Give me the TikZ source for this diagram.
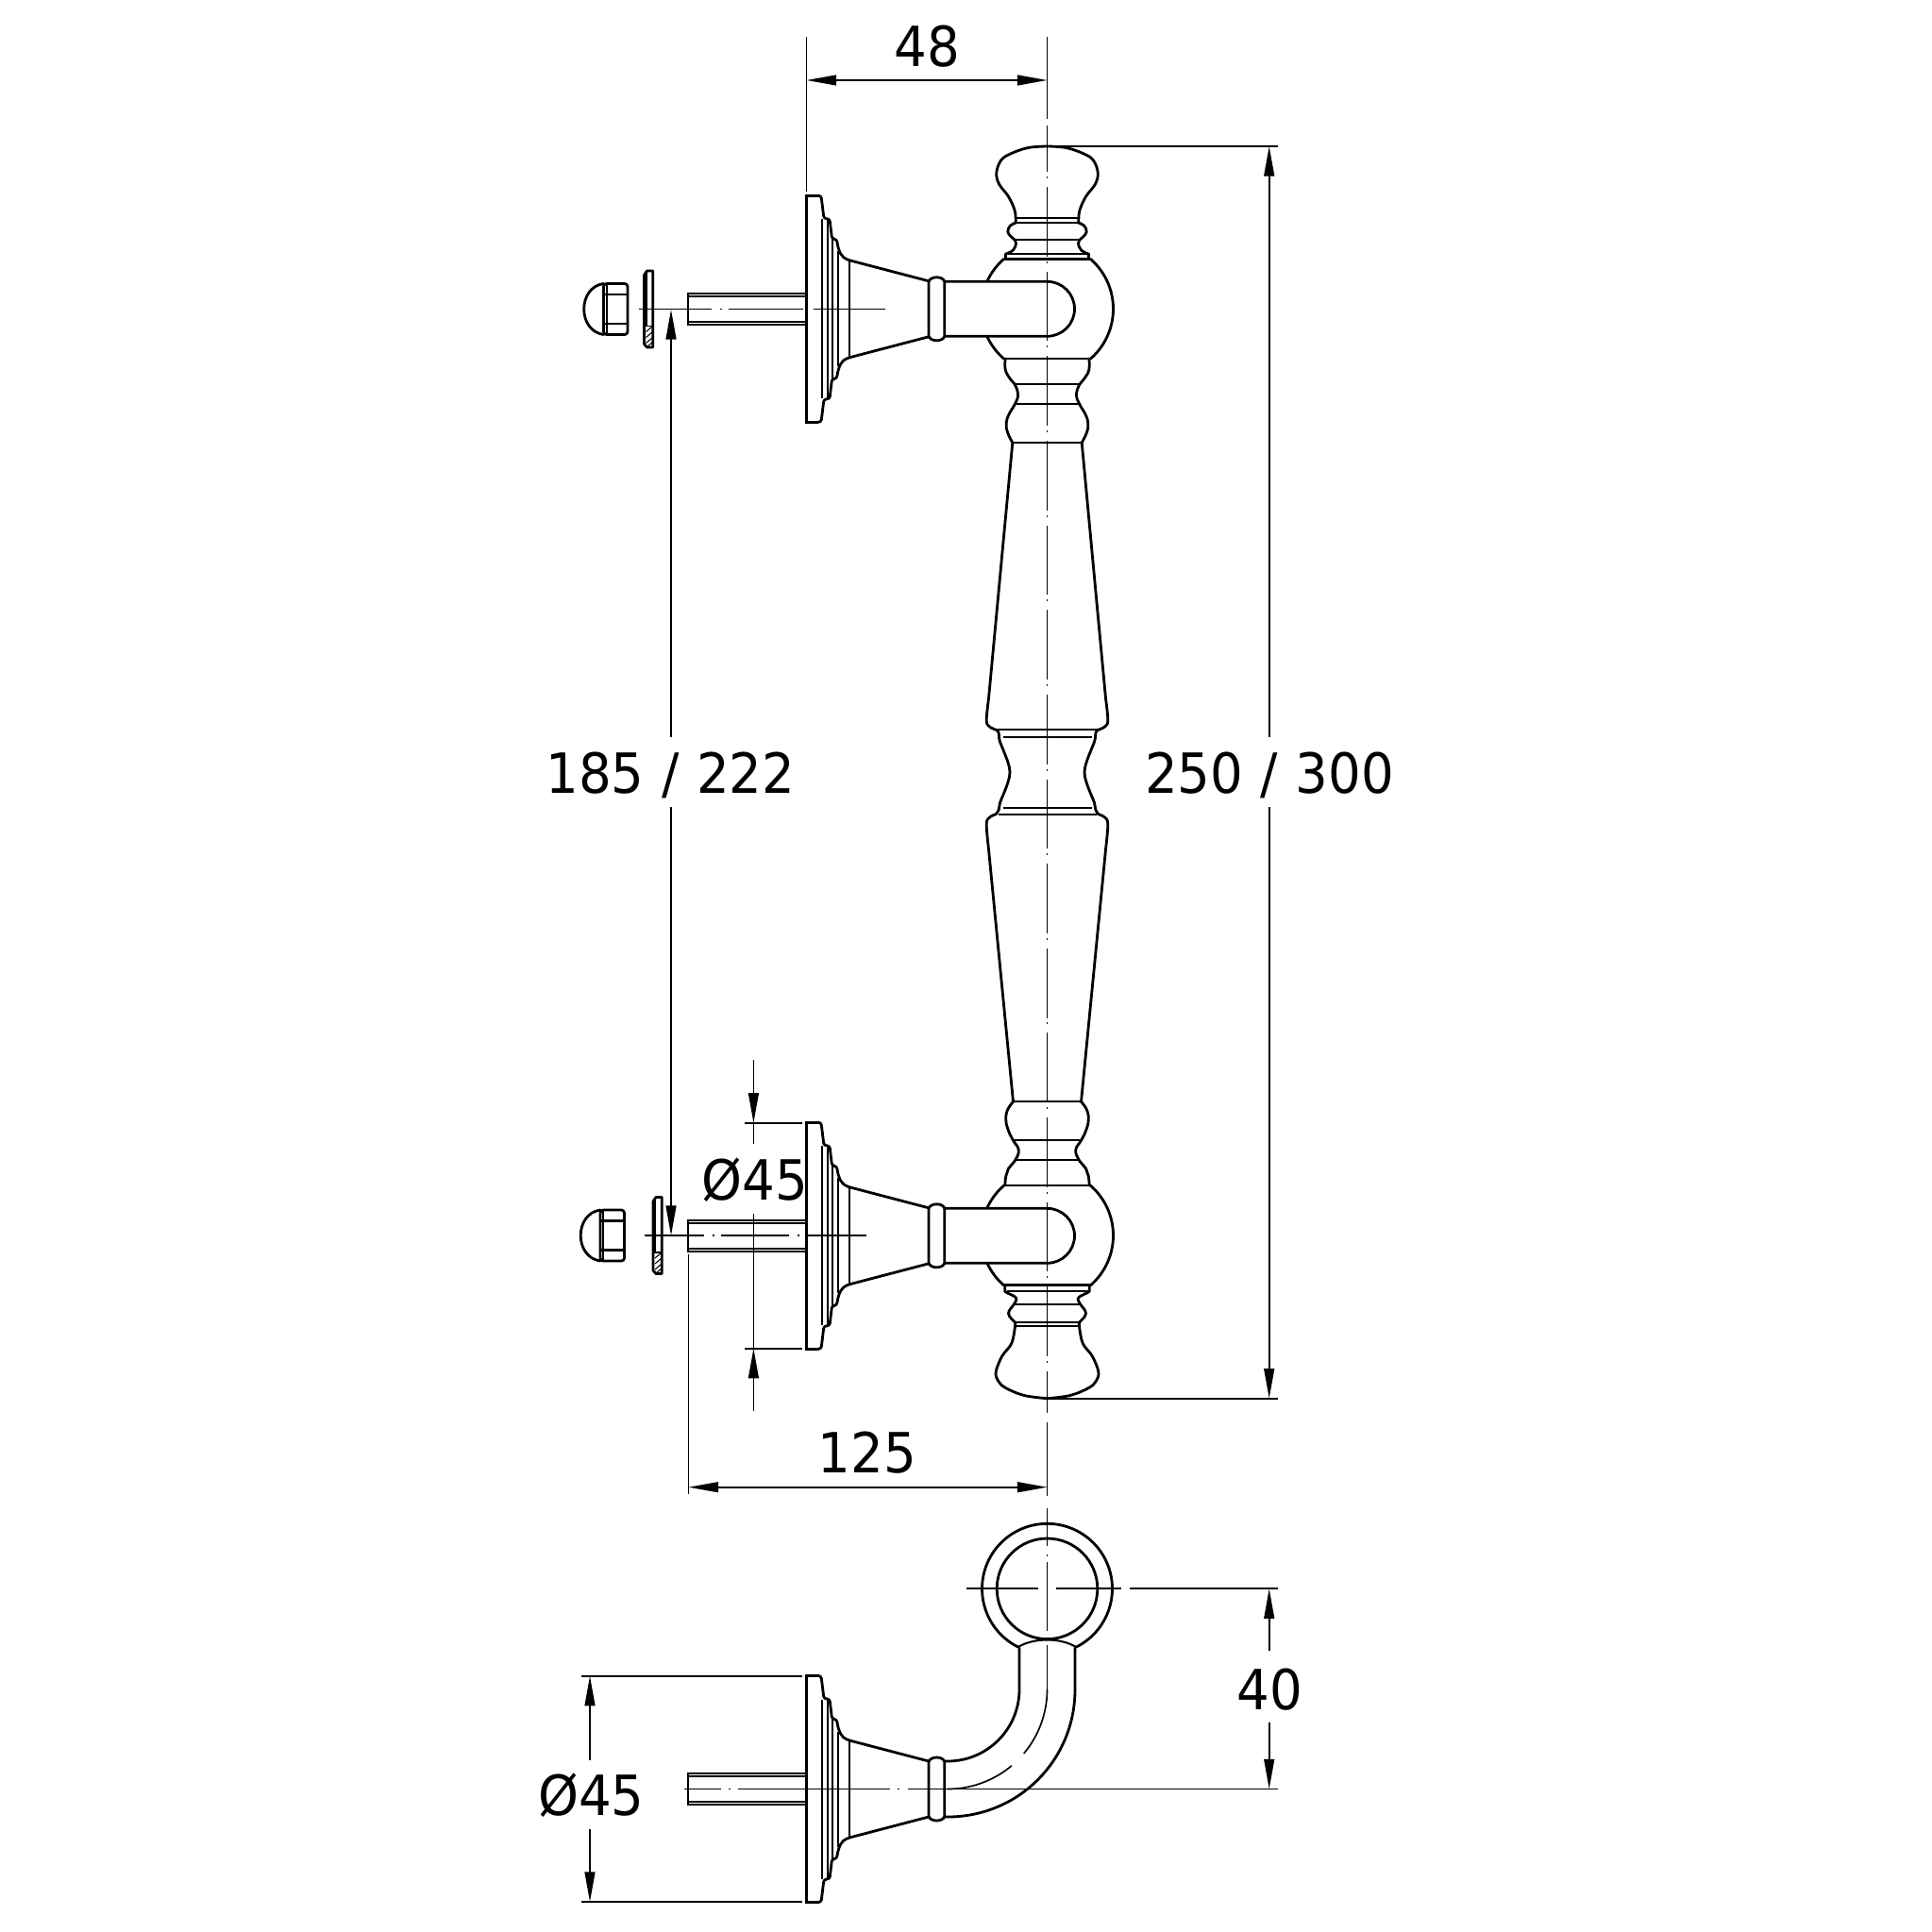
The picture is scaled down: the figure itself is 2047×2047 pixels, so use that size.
\documentclass[tikz,border=0pt]{standalone}
\usepackage{fontspec}
\usetikzlibrary{arrows.meta}
\newfontfamily\dimf[FakeStretch=0.93]{DejaVu Sans}
\newcommand\dimstyle{\dimf\fontsize{33.4pt}{40pt}\selectfont\spaceskip 10.6pt\relax}
\tikzset{
  thickl/.style={line width=1.6pt,line join=round,line cap=round},
  midl/.style={line width=1.15pt},
  thinl/.style={line width=0.95pt},
  dimarrow/.style={thinl,-{Triangle[length=18pt,width=6.2pt]}},
  dimboth/.style={thinl,{Triangle[length=18pt,width=6.2pt]}-{Triangle[length=18pt,width=6.2pt]}},
  dimtext/.style={inner sep=0pt,font=\dimstyle},
  axisl/.style={thinl,dash pattern=on 41.95pt off 2.83pt on 1.13pt off 5.11pt,dash phase=14pt},
}
% half of a wall mount, drawn about the axis y = 0
\newcommand\mounthalf{%
  \draw[line width=1.6pt,line join=miter] (854.5,0) -- (854.5,-120) -- (867,-120);
  \draw[thickl,rounded corners=1.6pt] (866,-120) -- (870,-120) -- (873,-95.5) -- (879,-95.5) -- (881.5,-74) -- (886.5,-74)
     .. controls (888.5,-60) and (892,-54.5) .. (900,-51.5) -- (984,-29.5);
}
\newcommand\mount{%
  \mounthalf
  \begin{scope}[yscale=-1]\mounthalf\end{scope}
  \draw[thinl] (870.7,-95) -- (870.7,95);
  \draw[midl] (876.7,-95) -- (876.7,95) (881.7,-74) -- (881.7,74);
  \draw[midl] (888.3,-61) -- (888.3,61);
  \draw[thinl] (900,-51.5) -- (900,51.5);
  \draw[thickl,fill=white] (984,29) -- (984,-29) .. controls (986,-35) and (999,-35) .. (1000.7,-29)
     -- (1000.7,29) .. controls (999,35) and (986,35) .. (984,29) -- cycle;
  \draw[midl] (854.5,-16.5) -- (729,-16.5) -- (729,16.5) -- (854.5,16.5);
  \draw[thinl] (729,-13.5) -- (854.5,-13.5) (729,13.5) -- (854.5,13.5);
}
\newcommand\nut{%
  \draw[thickl,rounded corners=1.8pt] (639.5,-27) -- (665,-27) -- (665,27) -- (639.5,27) -- cycle;
  \draw[thickl] (639.5,-27) .. controls (626,-25) and (618.7,-13) .. (618.7,0) .. controls (618.7,13) and (626,25) .. (639.5,27);
  \draw[thickl] (640,-15.5) -- (665,-15.5) (640,15.5) -- (665,15.5);
  \draw[midl] (642.5,-26) -- (642.5,26);
}
\newcommand\washer{%
  \draw[thickl] (682.5,-36) -- (685.5,-40.5) -- (691.7,-40.5) -- (691.7,40.5) -- (685.5,40.5) -- (682.5,37) -- cycle;
  \draw[thinl] (684.7,-38) -- (684.7,18) (682.5,18) -- (691.7,18);
  \draw[line width=0.6pt] (684.5,24) -- (691,18.5) (684.5,30) -- (691.5,24) (684.5,36) -- (691.5,30) (685.5,40) -- (691.5,35);
}
% handle contour, right-hand side; x measured from the centre line
\newcommand\handleside{%
  \draw[thickl] plot[smooth,tension=0.6] coordinates {(0,155) (20,156.5) (39,163) (49,170) (53.7,183) (51,195) (41,208.3) (34.3,223.3) (33.3,236)};
  \draw[thickl] plot[smooth,tension=0.7] coordinates {(33,236) (39,239) (41.7,245.7) (38,251) (34,254.5) (33,258) (36,265) (44.3,269.3)};
  \draw[thickl] (44.3,269.3) -- (44.3,274.3);
  \draw[thickl] plot[domain=-49:49,samples=40] ({70*cos(\x)},{327.3+70*sin(\x)});
  \draw[thickl] plot[smooth,tension=0.75] coordinates {(44.3,380) (44.3,391.7) (39.5,401) (34.3,407.3) (31,418.3) (34.3,428.3) (40.5,439) (43.3,448.3) (42,458) (36.7,469)};
  \draw[thickl] (36.7,469) -- (62,740);
  \draw[thickl] plot[smooth,tension=0.6] coordinates {(62,740) (64.3,763.3) (61,770) (54,773.3)};
  \draw[thickl] plot[smooth,tension=0.7] coordinates {(54,773.3) (51.5,776) (51,781.7) (50,786) (45.7,796.7) (41.5,808) (39.5,818.3) (41.5,828.6) (45.7,840) (50,850.5) (51.3,858) (54.3,862.7)};
  \draw[thickl] plot[smooth,tension=0.6] coordinates {(54.3,862.7) (61,866) (64.3,873.3) (62,900)};
  \draw[thickl] (62,900) -- (36,1167.3);
  \draw[thickl] plot[smooth,tension=0.75] coordinates {(36,1167.3) (42,1176) (43.7,1186.7) (41,1198) (36,1208.3) (30.3,1218.3) (33.7,1229) (41,1238) (43.7,1246) (44.7,1256)};
  \draw[thickl] plot[domain=-49:49,samples=40] ({70*cos(\x)},{1309+70*sin(\x)});
  \draw[thickl] (44.7,1361.7) -- (44.7,1368.3) -- (42,1370);
  \draw[thickl] plot[smooth,tension=0.7] coordinates {(42,1370) (33.7,1374.3) (33,1378) (35,1381.7) (41,1391.7) (34.3,1400.7)};
  \draw[thickl] plot[smooth,tension=0.6] coordinates {(34.3,1400.7) (34,1405.3) (37.7,1423.3) (47.7,1436.7) (54.3,1453.3) (52,1463) (44,1470.5) (24.3,1478.5) (0,1481.7)};
}
\begin{document}
\begin{tikzpicture}[x=0.02cm,y=-0.02cm]
\useasboundingbox (0,0) rectangle (2047,2047);
\fill[white] (0,0) rectangle (2047,2047);

% handle
\begin{scope}[shift={(1109.5,0)}]
  \handleside
  \begin{scope}[xscale=-1]\handleside\end{scope}
  \foreach \y/\w in {231/33,254.3/34,407.3/34,428.3/34,469/36,773.3/54,781/47,855.7/47,862.7/52,1167.3/36,1208.3/36,1229/34,1381.7/35,1400.7/34,1405.3/34}
    \draw[thinl] (-\w,\y) -- (\w,\y);
  \foreach \y/\w in {236/33,269.3/44,1368.3/43}
    \draw[midl] (-\w,\y) -- (\w,\y);
  \foreach \y/\w in {274.3/45,380/44.5,1256/44.7,1361.7/45}
    \draw[thickl] (-\w,\y) -- (\w,\y);
\end{scope}

% arms, upper and lower mount
\foreach \c in {327.3,1309.3} {
  \begin{scope}[shift={(0,\c)}]
    \draw[thickl,fill=white] (1000.7,-29) -- (1109.5,-29) .. controls (1125.5,-29) and (1138.5,-16) .. (1138.5,0)
       .. controls (1138.5,16) and (1125.5,29) .. (1109.5,29) -- (1000.7,29);
    \mount
  \end{scope}
}
\begin{scope}[shift={(0,327.5)}]\nut\washer\end{scope}
\begin{scope}[shift={(-3.5,1309)}]\nut\end{scope}
\begin{scope}[shift={(9.5,1309)}]\washer\end{scope}

% end view
\draw[thickl] plot[domain=116.4:423.6,samples=100] ({1109.5+69*cos(\x)},{1683.3+69*sin(\x)});
\draw[thickl] (1109.5,1683.3) circle[radius=53.3];
\draw[midl] (1078.8,1745) .. controls (1095,1735) and (1124,1735) .. (1140,1745);
\draw[thickl] (1080,1746) -- (1080,1790) .. controls (1080,1832) and (1046,1866) .. (1004,1866) -- (1000.7,1866);
\draw[thickl] (1139,1746) -- (1139,1790) .. controls (1139,1865) and (1079,1925) .. (1004,1925) -- (1000.7,1925);
\begin{scope}[shift={(0,1895.5)}]\mount\end{scope}
\draw[thinl] (1109.5,1743) -- (1109.5,1790);
\draw[thinl] plot[domain=0:40,samples=20] ({1004+105.5*cos(\x)},{1790+105.5*sin(\x)});
\draw[thinl] plot[domain=50:90,samples=20] ({1004+105.5*cos(\x)},{1790+105.5*sin(\x)});

% centre lines
\draw[axisl] (1109.5,133) -- (1109.5,1497);
\draw[thinl] (1109.5,1507) -- (1109.5,1585);
\draw[thinl] (1109.5,1598) -- (1109.5,1638) (1109.5,1647) -- (1109.5,1649) (1109.5,1655) -- (1109.5,1728);
\draw[thinl] (676.7,327.5) -- (753.5,327.5) (763,327.5) -- (765,327.5) (771.8,327.5) -- (851.4,327.5) (861.6,327.5) -- (938,327.5);
\draw[thinl] (683,1309) -- (746,1309) (755,1309) -- (757,1309) (763.7,1309) -- (836.3,1309) (845,1309) -- (847,1309) (855.5,1309) -- (917.5,1309);
\draw[thinl] (725,1895.5) -- (763.7,1895.5) (771.6,1895.5) -- (773.6,1895.5) (782,1895.5) -- (943,1895.5) (951,1895.5) -- (953,1895.5) (961.6,1895.5) -- (1354,1895.5);
\draw[thinl] (1024,1683.3) -- (1100.4,1683.3) (1118.8,1683.3) -- (1188,1683.3) (1197,1683.3) -- (1354,1683.3);

% dimension 48
\node[dimtext] (d48) at (982,49) {48};
\draw[thinl] (854.5,39) -- (854.5,203);
\draw[thinl] (1109.5,39) -- (1109.5,126);
\draw[dimboth] (854.5,85) -- (1109.5,85);

% dimension 250 / 300
\node[dimtext] (d250) at (1345,821) {250 / 300};
\draw[thinl] (1109.5,155) -- (1354,155);
\draw[thinl] (1109.5,1481.7) -- (1354,1481.7);
\draw[dimarrow] (1344.7,781) -- (1344.7,155);
\draw[dimarrow] (1344.7,855) -- (1344.7,1481.7);

% dimension 185 / 222
\node[dimtext] (d185) at (710.5,821) {185 / 222};
\draw[dimarrow] (711,781) -- (711,328);
\draw[dimarrow] (711,855) -- (711,1309);

% small diameter dimension
\node[dimtext] (d45a) at (800,1250) {Ø45};
\draw[thinl] (789,1189.7) -- (850,1189.7) (789,1428.7) -- (850,1428.7);
\draw[dimarrow] (798.4,1123) -- (798.4,1189.7);
\draw[thinl] (798.4,1189.7) -- (798.4,1211.7);
\draw[thinl] (798.4,1286) -- (798.4,1428.7);
\draw[dimarrow] (798.4,1495) -- (798.4,1428.7);

% dimension 125
\node[dimtext] (d125) at (919,1539) {125};
\draw[thinl] (729.5,1329) -- (729.5,1583);
\draw[dimboth] (729.5,1575.7) -- (1109.5,1575.7);

% dimension 40
\node[dimtext] (d40) at (1345,1790) {40};
\draw[dimarrow] (1344.7,1749) -- (1344.7,1683.3);
\draw[dimarrow] (1344.7,1825) -- (1344.7,1895.5);

% lower diameter dimension
\node[dimtext] (d45b) at (626.5,1902) {Ø45};
\draw[thinl] (615.5,1775.7) -- (850,1775.7) (615.5,2015) -- (850,2015);
\draw[dimarrow] (625,1865) -- (625,1775.7);
\draw[dimarrow] (625,1937.7) -- (625,2015);
\end{tikzpicture}
\end{document}
